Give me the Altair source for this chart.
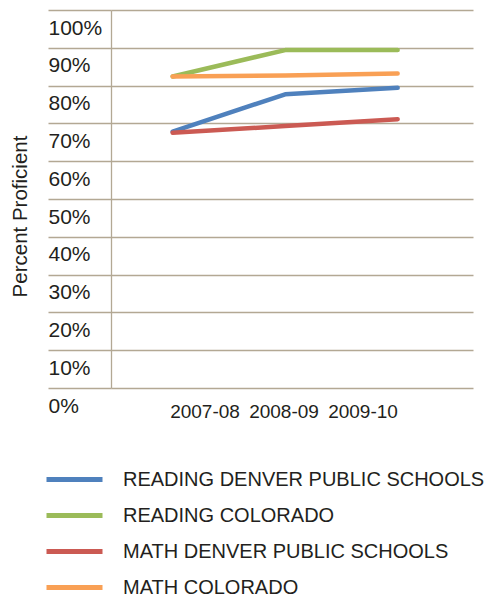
import altair as alt
import pandas as pd

years = ["2007-08", "2008-09", "2009-10"]
series = [
    "READING DENVER PUBLIC SCHOOLS",
    "READING COLORADO",
    "MATH DENVER PUBLIC SCHOOLS",
    "MATH COLORADO",
]
reading_dps = [67.8, 77.7, 79.4]
reading_co = [82.4, 89.4, 89.4]
math_dps = [67.5, 69.3, 71.1]
math_co = [82.4, 82.7, 83.2]
colors = ["#4F81BD", "#9BBB59", "#CB5A53", "#F9A055"]
y_ticks = [0, 10, 20, 30, 40, 50, 60, 70, 80, 90, 100]

rows = []
for name, vals in zip(series, [reading_dps, reading_co, math_dps, math_co]):
    for yr, v in zip(years, vals):
        rows.append({"year": yr, "series": name, "value": v})
df = pd.DataFrame(rows)
year_df = pd.DataFrame({"year": years})

FONT = "Liberation Sans"
GRID = "#B3A894"
TEXT = "#231F20"
W, H = 362, 378

lines = alt.Chart(df).mark_line(strokeWidth=4.5, strokeCap="round", strokeJoin="round").encode(
    x=alt.X("year:N", sort=years, axis=None,
            scale=alt.Scale(type="point", padding=0.609, align=0.45)),
    y=alt.Y("value:Q",
            scale=alt.Scale(domain=[0, 100], nice=False, zero=True),
            axis=alt.Axis(values=y_ticks, labelExpr="datum.value + '%'",
                          title="Percent Proficient", grid=True, gridColor=GRID,
                          gridWidth=1.3, domainColor=GRID, domainWidth=1.3,
                          tickColor=GRID, tickWidth=1.3, tickSize=63,
                          labelAlign="left", labelPadding=0, labelOffset=18,
                          labelBaseline="middle", labelFont=FONT, labelFontSize=21,
                          labelColor=TEXT, titleFont=FONT, titleFontSize=20.5,
                          titleFontWeight="normal", titleColor=TEXT,
                          titleX=-91, titleY=206, titleBaseline="middle",
                          titleAlign="center", titleAngle=270)),
    color=alt.Color("series:N", sort=series,
                    scale=alt.Scale(domain=series, range=colors),
                    legend=alt.Legend(title=None, orient="none", legendX=-53, legendY=453,
                                      direction="vertical", symbolType="M-2,0H2",
                                      symbolSize=784, symbolStrokeWidth=5,
                                      labelFont=FONT, labelFontSize=20, labelColor=TEXT,
                                      labelLimit=0, labelOffset=32, rowPadding=9)),
)

xlabels = alt.Chart(year_df).mark_text(font=FONT, fontSize=19, color=TEXT,
                                       baseline="middle", align="center").encode(
    x=alt.X("year:N", sort=years, axis=None,
            scale=alt.Scale(type="point", padding=0, range=[94, 252])),
    y=alt.value(402),
    text="year:N",
)

chart = alt.layer(lines, xlabels).resolve_scale(x="independent").properties(
    width=W, height=H,
    autosize=alt.AutoSizeParams(type="none"),
    padding={"left": 103, "top": 2, "right": 19, "bottom": 212},
    background="white",
).configure_view(stroke=None)

chart.save("out.html", embed_options={"renderer": "svg", "actions": False})
